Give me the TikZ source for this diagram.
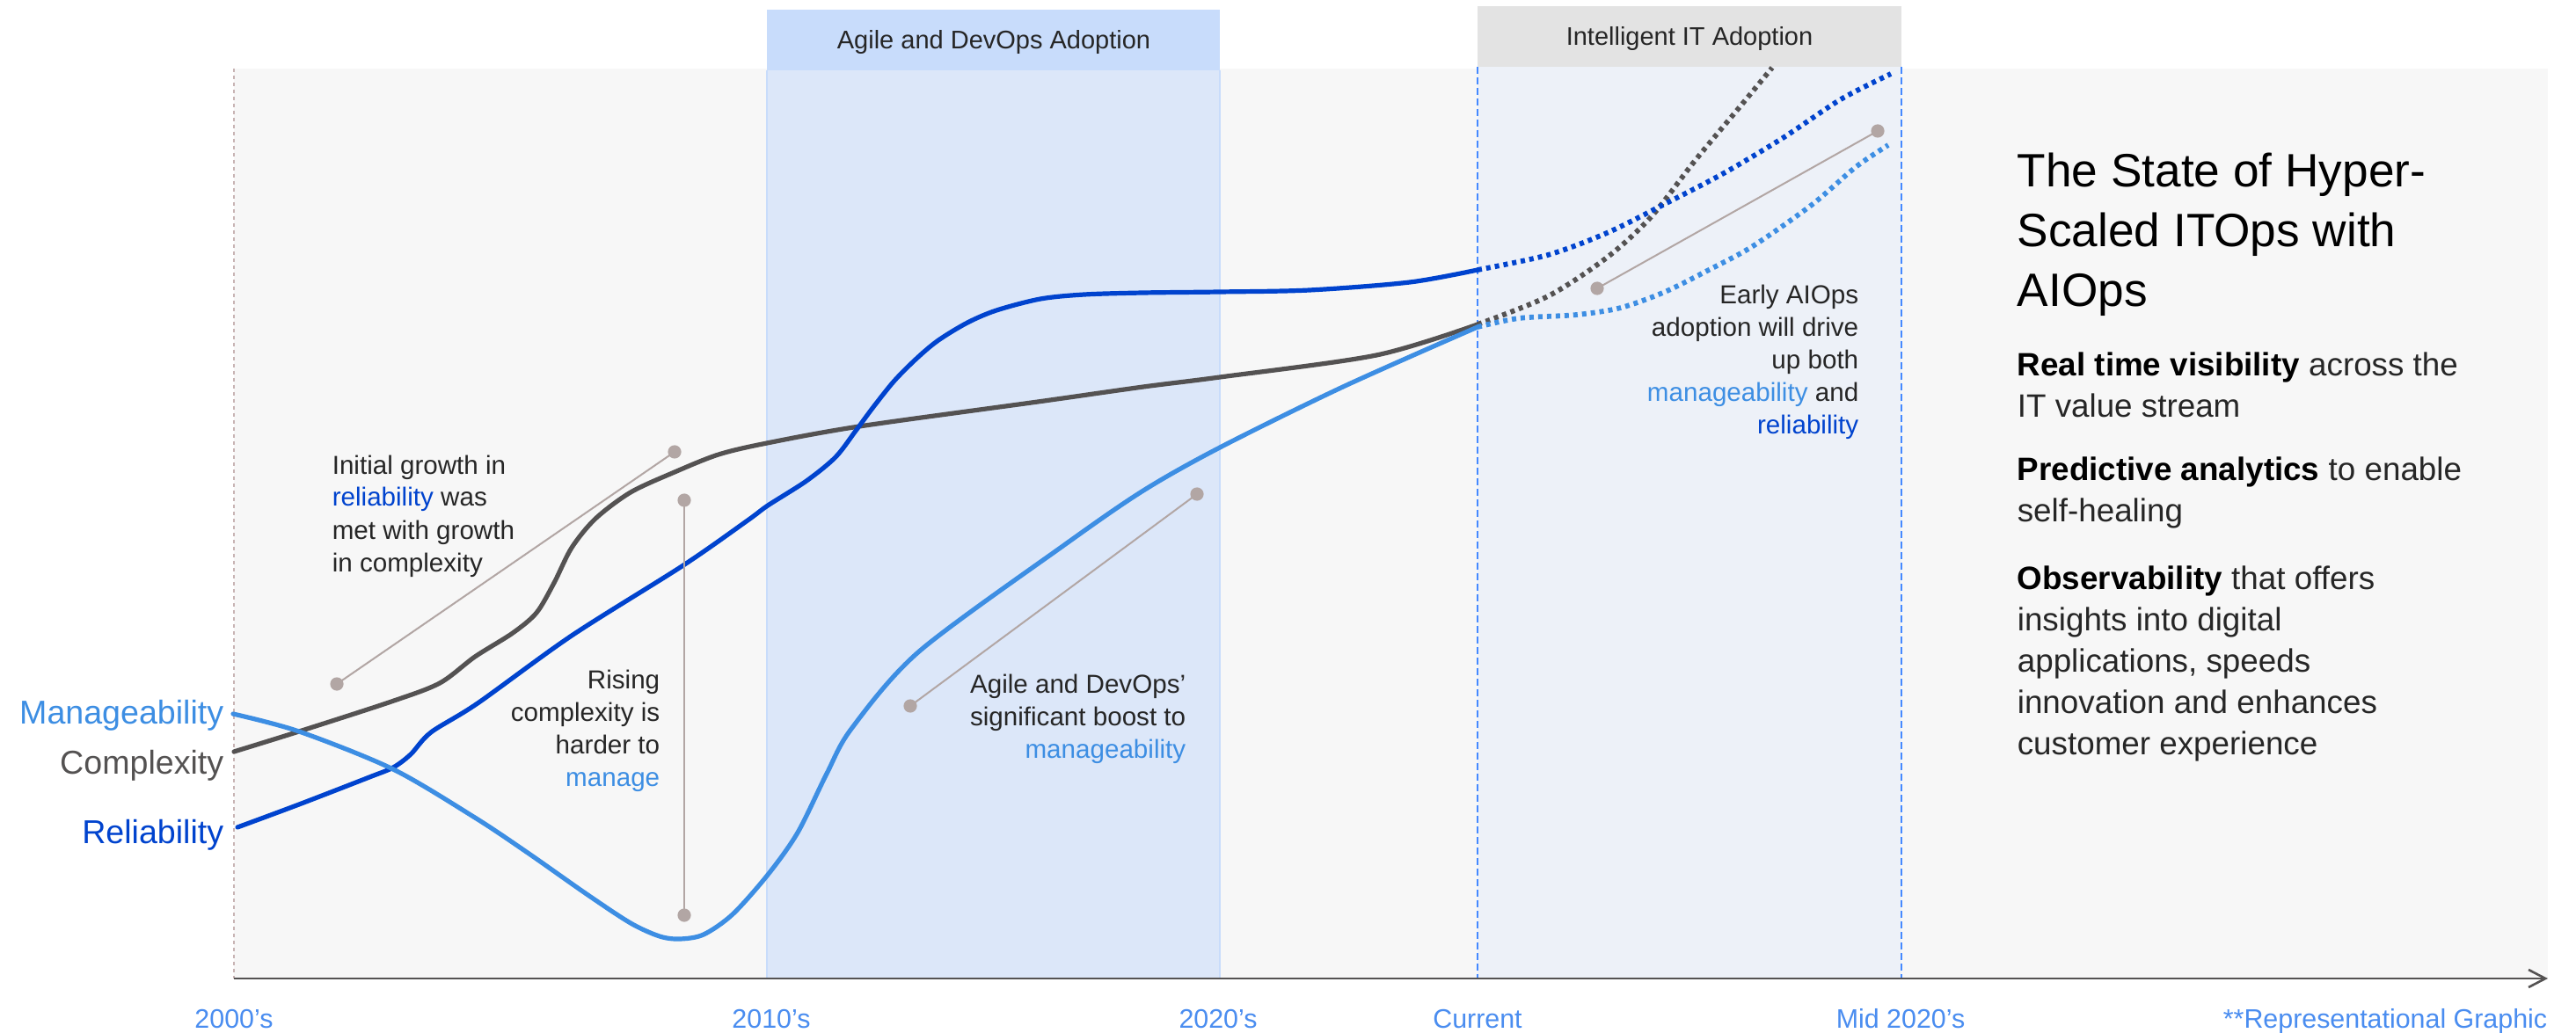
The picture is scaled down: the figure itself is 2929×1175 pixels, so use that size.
\documentclass[tikz,border=0pt]{standalone}
\usepackage{fontspec}
\setmainfont{Liberation Sans}
\usetikzlibrary{arrows.meta}
\definecolor{panelbg}{HTML}{F7F7F7}
\definecolor{agilehead}{HTML}{C8DCFB}
\definecolor{agilebody}{HTML}{DCE7F9}
\definecolor{ithead}{HTML}{E3E3E3}
\definecolor{itbody}{HTML}{EDF1F8}
\definecolor{rel}{HTML}{0043CE}
\definecolor{man}{HTML}{3D8EE3}
\definecolor{cpx}{HTML}{545252}
\definecolor{ptr}{HTML}{B2A6A4}
\definecolor{txt}{HTML}{262626}
\definecolor{axlab}{HTML}{4A8DF0}
\definecolor{leftdash}{HTML}{C8B4B4}
\definecolor{itdash}{HTML}{4589FF}
\begin{document}
\begin{tikzpicture}[x=0.25pt,y=-0.25pt,
  curve/.style={line width=1.3pt, line cap=round, line join=round},
  future/.style={line width=1.45pt, dash pattern=on 1.25pt off 1.25pt},
  pointer/.style={draw=ptr, line width=0.5pt},
  dotmark/.style={circle, fill=ptr, inner sep=0pt, minimum size=3.8pt},
  ann/.style={inner sep=0pt, text=txt, font=\fontsize{7.4}{9.25}\selectfont},
  body/.style={inner sep=0pt, text=txt, align=left, font=\fontsize{9.2}{11.75}\selectfont},
  axislab/.style={inner sep=0pt, text=axlab, font=\fontsize{7.6}{9}\selectfont},
  head/.style={inner sep=0pt, text=txt, anchor=base, font=\fontsize{7.25}{9}\selectfont},
  leftlab/.style={inner sep=0pt, anchor=base east, font=\fontsize{9.4}{11}\selectfont}
]
\useasboundingbox (0,0) rectangle (2929,1175);
\fill[white] (0,0) rectangle (2929,1175);
% panel
\fill[panelbg] (266,78) rectangle (2897,1113);
% agile band
\fill[agilebody] (872,80) rectangle (1387,1113);
\fill[agilehead] (872,11) rectangle (1387,80);
\draw[agilehead, line width=0.4pt] (872,80) -- (872,1113) (1387,80) -- (1387,1113);
\node[head] (agilet) at (1130,56) {Agile and DevOps Adoption};
% intelligent band
\fill[itbody] (1680,76) rectangle (2162,1113);
\fill[ithead] (1680,7) rectangle (2162,76);
\draw[itdash, line width=0.45pt, dash pattern=on 2pt off 1pt] (1680,76) -- (1680,1113) (2162,76) -- (2162,1113);
\node[head] (itt) at (1921,52) {Intelligent IT Adoption};
% left dashed
\draw[leftdash, line width=0.35pt, dash pattern=on 1pt off 1pt] (266,78) -- (266,1113);

% complexity
\draw[curve, cpx] plot[smooth, tension=0.5] coordinates {(266,855) (340,832) (445,798) (500,777) (540,747) (583,720) (610,697) (630,663) (650,623) (677,590) (717,560) (767,537) (817,517) (872,504) (977,485) (1180,457) (1300,440) (1387,429) (1565,404) (1680,369)};
\draw[future, cpx] plot[smooth, tension=0.5] coordinates {(1680,369) (1760,337) (1827,293) (1877,247) (1927,183) (1977,123) (2015,77)};
% reliability
\draw[curve, rel] plot[smooth, tension=0.5] coordinates {(270,941) (340,915) (420,884) (447,873) (467,858) (490,833) (543,800) (650,723) (777,643) (850,592) (873,575) (917,547) (950,520) (973,490) (993,463) (1017,433) (1043,407) (1067,387) (1100,367) (1133,353) (1183,340) (1233,335) (1300,333) (1387,332) (1489,330) (1603,321) (1680,307)};
\draw[future, rel] plot[smooth, tension=0.5] coordinates {(1680,307) (1760,290) (1827,265) (1893,232) (1960,197) (2027,157) (2093,113) (2150,84)};
% manageability
\draw[curve, man] plot[smooth, tension=0.5] coordinates {(265,812) (340,832) (447,875) (540,930) (600,970) (667,1017) (717,1050) (750,1065) (773,1068) (800,1063) (833,1040) (873,995) (907,947) (940,880) (968,829) (1045,741) (1210,620) (1300,558) (1387,509) (1527,440) (1680,372)};
\draw[future, man] plot[smooth, tension=0.5] coordinates {(1680,372) (1727,362) (1793,358) (1843,350) (1893,332) (1943,307) (1993,280) (2060,233) (2110,190) (2147,165)};

% pointers
\node[dotmark] (p1a) at (383,778) {};
\node[dotmark] (p1b) at (767,514) {};
\draw[pointer] (p1a.center) -- (p1b.center);
\node[dotmark] (p2a) at (778,569) {};
\node[dotmark] (p2b) at (778,1041) {};
\draw[pointer] (p2a.center) -- (p2b.center);
\node[dotmark] (p3a) at (1035,803) {};
\node[dotmark] (p3b) at (1361,562) {};
\draw[pointer] (p3a.center) -- (p3b.center);
\node[dotmark] (p4a) at (1816,328) {};
\node[dotmark] (p4b) at (2135,149) {};
\draw[pointer] (p4a.center) -- (p4b.center);

% annotations (base anchor = baseline of last line)
\node[ann, anchor=base west, align=left] (a1) at (377,650) {Initial growth in\\{\color{rel}reliability} was\\met with growth\\in complexity};
\node[ann, anchor=base east, align=right] (a2) at (751,894) {Rising\\complexity is\\harder to\\{\color{man}manage}};
\node[ann, anchor=base east, align=right] (a3) at (1349,862) {Agile and DevOps’\\significant boost to\\{\color{man}manageability}};
\node[ann, anchor=base east, align=right] (a4) at (2114,494) {Early AIOps\\adoption will drive\\up both\\{\color{man}manageability} and\\{\color{rel}reliability}};

% left labels
\node[leftlab, text=man] (lman) at (255,823) {Manageability};
\node[leftlab, text=cpx] (lcpx) at (255,880) {Complexity};
\node[leftlab, text=rel] (lrel) at (255,959) {Reliability};

% right text
\node[inner sep=0pt, anchor=base west, align=left, text=black, font=\fontsize{13.3}{17}\selectfont] (title) at (2293,349) {The State of Hyper-\\Scaled ITOps with\\AIOps};
\node[body, anchor=base west] (b1) at (2293,475) {{\color{black}\bfseries Real time visibility} across the\\IT value stream};
\node[body, anchor=base west] (b2) at (2293,594) {{\color{black}\bfseries Predictive analytics} to enable\\self-healing};
\node[body, anchor=base west] (b3) at (2293,858) {{\color{black}\bfseries Observability} that offers\\insights into digital\\applications, speeds\\innovation and enhances\\customer experience};

% axis
\coordinate (ax0) at (266,1113);
\coordinate (ax1) at (2897,1113);
\draw[cpx, line width=0.65pt, -{Straight Barb[length=4.8pt, width=5pt, line width=0.65pt]}] (ax0) -- (ax1);
\node[axislab, anchor=base] (x1) at (266,1169) {2000’s};
\node[axislab, anchor=base] (x2) at (877,1169) {2010’s};
\node[axislab, anchor=base] (x3) at (1385,1169) {2020’s};
\node[axislab, anchor=base] (x4) at (1680,1169) {Current};
\node[axislab, anchor=base] (x5) at (2161,1169) {Mid 2020’s};
\node[axislab, anchor=base east] (x6) at (2897,1169) {**Representational Graphic};
\end{tikzpicture}
\end{document}
